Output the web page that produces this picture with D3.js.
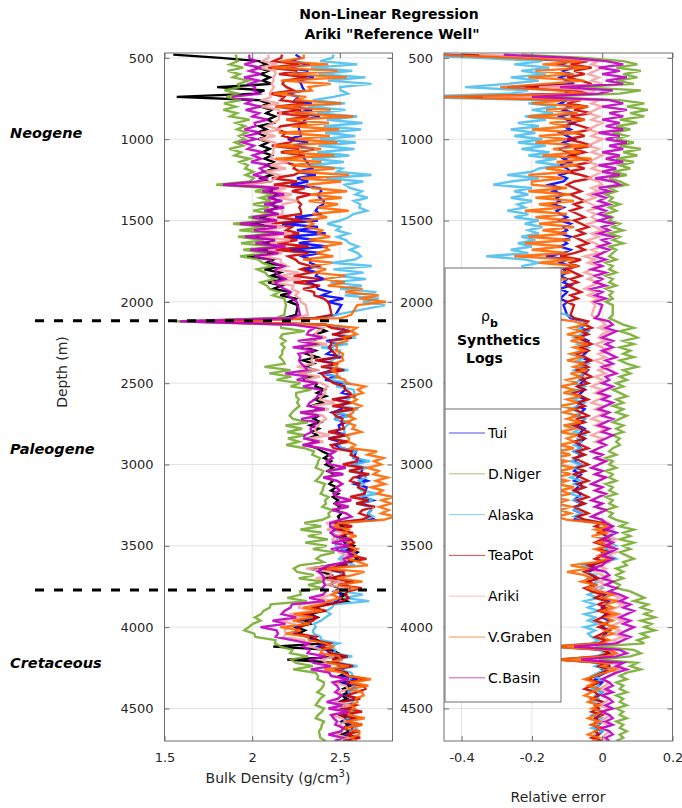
<!DOCTYPE html>
<html>
<head>
<meta charset="utf-8">
<script src="https://cdn.jsdelivr.net/npm/d3@7"></script>
<style>
  body { margin: 0; background: #fff; }
  svg { display: block; }
  text { font-family: "DejaVu Sans", sans-serif; }
</style>
</head>
<body>
<svg id="chart" width="682" height="808"></svg>
<script>
// Sampling depths (m): logged interval above and below the 2020-2080 m gap
const depthUpper = d3.range(480, 2021, 20);   // 78 samples
const depthLower = d3.range(2080, 4701, 20);  // 132 samples

// Measured bulk density, Ariki well (g/cm3); rows start at the depth given
const rhoMeasured = [
  /*  480 */ 1.55, 1.82, 2.04, 2.08, 2.03, 2.09, 2.05, 2.10, 2.06, 2.11,
  /*  680 */ 1.80, 2.07, 2.02, 1.57, 2.04, 2.09, 2.05, 2.11, 2.08, 2.13,
  /*  880 */ 2.09, 2.12, 2.04, 2.08, 2.03, 2.07, 2.04, 2.09, 2.05, 2.10,
  /* 1080 */ 2.06, 2.11, 2.07, 2.12, 2.08, 2.13, 2.07, 2.11, 2.05, 2.09,
  /* 1280 */ 1.93, 2.13, 2.10, 2.14, 2.11, 2.15, 2.11, 2.14, 2.09, 2.13,
  /* 1480 */ 2.04, 2.12, 1.99, 2.14, 2.05, 2.16, 2.02, 2.13, 2.06, 2.17,
  /* 1680 */ 2.03, 2.15, 1.97, 2.12, 2.08, 2.18, 2.07, 2.16, 2.11, 2.19,
  /* 1880 */ 2.09, 2.17, 2.12, 2.22, 2.16, 2.25, 2.21, 2.26,
  /* 2080 */ 2.25, 2.18, 1.62, 2.30, 2.38, 2.42, 2.36, 2.40, 2.33, 2.38,
  /* 2280 */ 2.30, 2.36, 2.31, 2.37, 2.29, 2.35, 2.30, 2.36, 2.28, 2.34,
  /* 2480 */ 2.30, 2.37, 2.36, 2.41, 2.37, 2.42, 2.36, 2.40, 2.34, 2.39,
  /* 2680 */ 2.32, 2.38, 2.35, 2.39, 2.33, 2.38, 2.34, 2.37, 2.32, 2.36,
  /* 2880 */ 2.31, 2.37, 2.40, 2.44, 2.41, 2.45, 2.42, 2.46, 2.43, 2.47,
  /* 3080 */ 2.43, 2.46, 2.44, 2.48, 2.45, 2.49, 2.46, 2.49, 2.47, 2.50,
  /* 3280 */ 2.48, 2.51, 2.49, 2.50, 2.47, 2.52, 2.50, 2.55, 2.52, 2.56,
  /* 3480 */ 2.53, 2.58, 2.55, 2.60, 2.57, 2.60, 2.56, 2.44, 2.33, 2.40,
  /* 3680 */ 2.45, 2.41, 2.48, 2.44, 2.50, 2.47, 2.53, 2.50, 2.54, 2.42,
  /* 3880 */ 2.36, 2.40, 2.33, 2.37, 2.30, 2.33, 2.25, 2.30, 2.26, 2.32,
  /* 4080 */ 2.37, 2.42, 2.12, 2.45, 2.49, 2.52, 2.20, 2.50, 2.55, 2.51,
  /* 4280 */ 2.54, 2.50, 2.55, 2.51, 2.56, 2.52, 2.55, 2.51, 2.54, 2.50,
  /* 4480 */ 2.54, 2.51, 2.55, 2.50, 2.54, 2.51, 2.55, 2.52, 2.56, 2.51,
  /* 4680 */ 2.54, 2.52
];

// Relative error of each synthetic log: (measured - synthetic) / measured
const errTui = [
  /*  480 */ -0.45, -0.25, -0.09, -0.12, -0.08, -0.11, -0.09, -0.12, -0.10, -0.08,
  /*  680 */ -0.27, -0.11, -0.09, -0.44, -0.10, -0.12, -0.09, -0.11, -0.08, -0.12,
  /*  880 */ -0.10, -0.08, -0.11, -0.09, -0.12, -0.10, -0.08, -0.11, -0.09, -0.12,
  /* 1080 */ -0.10, -0.08, -0.11, -0.09, -0.12, -0.10, -0.09, -0.12, -0.10, -0.11,
  /* 1280 */ -0.15, -0.12, -0.14, -0.11, -0.13, -0.12, -0.14, -0.11, -0.13, -0.12,
  /* 1480 */ -0.10, -0.12, -0.09, -0.11, -0.10, -0.12, -0.09, -0.11, -0.10, -0.12,
  /* 1680 */ -0.09, -0.11, -0.16, -0.10, -0.12, -0.09, -0.11, -0.10, -0.12, -0.10,
  /* 1880 */ -0.11, -0.09, -0.12, -0.10, -0.11, -0.12, -0.10, -0.11,
  /* 2080 */ -0.10, -0.09, -0.05, -0.05, -0.06, -0.04, -0.05, -0.06, -0.04, -0.05,
  /* 2280 */ -0.06, -0.04, -0.05, -0.06, -0.04, -0.05, -0.06, -0.04, -0.05, -0.06,
  /* 2480 */ -0.05, -0.06, -0.07, -0.05, -0.06, -0.07, -0.05, -0.06, -0.07, -0.05,
  /* 2680 */ -0.06, -0.07, -0.05, -0.06, -0.07, -0.05, -0.06, -0.07, -0.05, -0.06,
  /* 2880 */ -0.07, -0.06, -0.08, -0.06, -0.07, -0.08, -0.06, -0.07, -0.08, -0.06,
  /* 3080 */ -0.07, -0.08, -0.06, -0.07, -0.08, -0.06, -0.07, -0.08, -0.06, -0.07,
  /* 3280 */ -0.08, -0.06, -0.07, -0.08, 0.00, 0.01, 0.02, 0.00, 0.01, 0.02,
  /* 3480 */ 0.00, 0.01, 0.02, 0.00, 0.01, 0.02, 0.00, -0.03, -0.02, -0.04,
  /* 3680 */ -0.03, -0.02, -0.04, -0.03, -0.02, -0.01, 0.01, 0.00, 0.02, 0.01,
  /* 3880 */ 0.00, 0.02, 0.01, 0.00, 0.02, 0.01, 0.00, 0.02, 0.01, 0.00,
  /* 4080 */ 0.01, 0.00, -0.12, 0.01, 0.02, 0.00, -0.12, 0.01, 0.02, 0.00,
  /* 4280 */ 0.01, -0.01, -0.02, 0.00, -0.01, -0.02, 0.00, -0.01, -0.02, 0.00,
  /* 4480 */ -0.01, -0.02, 0.00, -0.01, -0.02, 0.00, -0.01, -0.02, 0.00, -0.01,
  /* 4680 */ -0.02, -0.01
];

const errDNiger = [
  /*  480 */ -0.23, -0.05, 0.06, 0.10, 0.04, 0.11, 0.06, 0.10, 0.04, 0.09,
  /*  680 */ -0.07, 0.11, 0.05, -0.18, 0.05, 0.12, 0.07, 0.13, 0.08, 0.12,
  /*  880 */ 0.05, 0.10, 0.04, 0.08, 0.03, 0.07, 0.04, 0.09, 0.05, 0.11,
  /* 1080 */ 0.06, 0.10, 0.04, 0.09, 0.05, 0.08, 0.03, 0.07, 0.02, 0.05,
  /* 1280 */ 0.07, 0.02, 0.04, 0.01, 0.03, 0.02, 0.05, 0.02, 0.04, 0.01,
  /* 1480 */ 0.03, 0.02, 0.05, 0.03, 0.06, 0.02, 0.05, 0.03, 0.06, 0.02,
  /* 1680 */ 0.04, 0.03, 0.02, 0.04, 0.01, 0.03, 0.02, 0.04, 0.01, 0.03,
  /* 1880 */ 0.02, 0.04, 0.01, 0.03, 0.02, 0.03, 0.01, 0.03,
  /* 2080 */ 0.03, 0.02, 0.04, 0.06, 0.09, 0.05, 0.08, 0.10, 0.06, 0.09,
  /* 2280 */ 0.05, 0.08, 0.06, 0.09, 0.05, 0.07, 0.10, 0.06, 0.08, 0.05,
  /* 2480 */ 0.07, 0.04, 0.06, 0.03, 0.05, 0.07, 0.04, 0.06, 0.03, 0.06,
  /* 2680 */ 0.04, 0.07, 0.05, 0.03, 0.06, 0.04, 0.06, 0.03, 0.05, 0.04,
  /* 2880 */ 0.05, 0.03, 0.02, 0.04, 0.01, 0.03, 0.02, 0.04, 0.01, 0.03,
  /* 3080 */ 0.02, 0.04, 0.01, 0.03, 0.02, 0.04, 0.01, 0.03, 0.02, 0.04,
  /* 3280 */ 0.01, 0.03, 0.02, 0.04, 0.07, 0.05, 0.09, 0.06, 0.08, 0.05,
  /* 3480 */ 0.09, 0.06, 0.08, 0.05, 0.07, 0.09, 0.06, 0.07, 0.04, 0.06,
  /* 3680 */ 0.04, 0.06, 0.03, 0.05, 0.04, 0.08, 0.10, 0.12, 0.09, 0.13,
  /* 3880 */ 0.11, 0.14, 0.12, 0.15, 0.11, 0.14, 0.12, 0.15, 0.11, 0.13,
  /* 4080 */ 0.10, 0.12, -0.02, 0.09, 0.11, 0.08, -0.01, 0.10, 0.08, 0.11,
  /* 4280 */ 0.07, 0.05, 0.07, 0.04, 0.06, 0.05, 0.07, 0.04, 0.06, 0.05,
  /* 4480 */ 0.07, 0.04, 0.06, 0.05, 0.07, 0.04, 0.06, 0.05, 0.07, 0.05,
  /* 4680 */ 0.06, 0.04
];

const errAlaska = [
  /*  480 */ -0.59, -0.35, -0.17, -0.25, -0.15, -0.23, -0.16, -0.26, -0.18, -0.27,
  /*  680 */ -0.39, -0.21, -0.26, -0.57, -0.15, -0.21, -0.13, -0.20, -0.14, -0.22,
  /*  880 */ -0.16, -0.24, -0.18, -0.26, -0.19, -0.25, -0.17, -0.24, -0.16, -0.23,
  /* 1080 */ -0.15, -0.21, -0.13, -0.19, -0.12, -0.18, -0.20, -0.27, -0.18, -0.26,
  /* 1280 */ -0.31, -0.20, -0.25, -0.21, -0.26, -0.20, -0.24, -0.22, -0.27, -0.21,
  /* 1480 */ -0.25, -0.18, -0.22, -0.17, -0.21, -0.18, -0.23, -0.19, -0.24, -0.20,
  /* 1680 */ -0.26, -0.21, -0.33, -0.22, -0.18, -0.23, -0.19, -0.22, -0.18, -0.21,
  /* 1880 */ -0.17, -0.21, -0.18, -0.22, -0.17, -0.21, -0.19, -0.22,
  /* 2080 */ -0.10, -0.08, -0.05, -0.05, -0.07, -0.04, -0.06, -0.08, -0.05, -0.07,
  /* 2280 */ -0.04, -0.06, -0.08, -0.05, -0.07, -0.04, -0.06, -0.08, -0.05, -0.07,
  /* 2480 */ -0.06, -0.08, -0.05, -0.07, -0.09, -0.06, -0.08, -0.05, -0.07, -0.09,
  /* 2680 */ -0.06, -0.08, -0.05, -0.07, -0.09, -0.06, -0.08, -0.05, -0.07, -0.06,
  /* 2880 */ -0.08, -0.06, -0.08, -0.05, -0.07, -0.09, -0.06, -0.08, -0.05, -0.07,
  /* 3080 */ -0.09, -0.06, -0.08, -0.05, -0.07, -0.09, -0.06, -0.08, -0.05, -0.07,
  /* 3280 */ -0.08, -0.06, -0.08, -0.05, 0.01, 0.03, 0.02, 0.04, 0.01, 0.03,
  /* 3480 */ 0.02, 0.04, 0.01, 0.03, 0.02, 0.04, 0.01, -0.06, -0.03, -0.05,
  /* 3680 */ -0.02, -0.04, -0.01, -0.03, 0.00, -0.02, -0.04, -0.01, -0.05, -0.02,
  /* 3880 */ -0.04, -0.01, -0.05, -0.02, -0.04, -0.01, -0.05, -0.02, -0.04, -0.03,
  /* 4080 */ -0.01, -0.03, -0.15, -0.01, 0.01, -0.02, -0.13, 0.00, -0.02, 0.01,
  /* 4280 */ -0.01, -0.03, 0.00, -0.02, -0.01, -0.03, 0.00, -0.02, -0.01, -0.03,
  /* 4480 */ 0.00, -0.02, -0.01, -0.03, 0.00, -0.02, -0.01, -0.03, 0.00, -0.02,
  /* 4680 */ -0.01, -0.02
];

const errTeaPot = [
  /*  480 */ -0.40, -0.19, -0.04, -0.09, -0.03, -0.08, -0.05, -0.10, -0.06, -0.03,
  /*  680 */ -0.22, -0.08, -0.04, -0.39, -0.06, -0.10, -0.04, -0.08, -0.03, -0.09,
  /*  880 */ -0.05, -0.09, -0.06, -0.03, -0.08, -0.05, -0.10, -0.06, -0.03, -0.08,
  /* 1080 */ -0.05, -0.09, -0.06, -0.03, -0.08, -0.05, -0.10, -0.06, -0.03, -0.08,
  /* 1280 */ -0.10, -0.08, -0.06, -0.09, -0.07, -0.05, -0.08, -0.06, -0.09, -0.07,
  /* 1480 */ -0.05, -0.08, -0.06, -0.04, -0.07, -0.05, -0.08, -0.06, -0.04, -0.07,
  /* 1680 */ -0.05, -0.08, -0.12, -0.06, -0.09, -0.07, -0.10, -0.08, -0.06, -0.09,
  /* 1880 */ -0.07, -0.10, -0.08, -0.06, -0.09, -0.07, -0.10, -0.08,
  /* 2080 */ -0.09, -0.08, -0.04, -0.05, -0.03, -0.06, -0.04, -0.07, -0.05, -0.03,
  /* 2280 */ -0.06, -0.04, -0.07, -0.05, -0.03, -0.06, -0.04, -0.07, -0.05, -0.03,
  /* 2480 */ -0.06, -0.04, -0.07, -0.05, -0.08, -0.06, -0.04, -0.07, -0.05, -0.08,
  /* 2680 */ -0.06, -0.04, -0.07, -0.05, -0.08, -0.06, -0.04, -0.07, -0.05, -0.08,
  /* 2880 */ -0.06, -0.04, -0.07, -0.05, -0.08, -0.06, -0.04, -0.07, -0.05, -0.08,
  /* 3080 */ -0.06, -0.04, -0.07, -0.05, -0.08, -0.06, -0.04, -0.07, -0.05, -0.08,
  /* 3280 */ -0.06, -0.04, -0.07, -0.05, 0.00, -0.02, 0.01, -0.01, 0.02, 0.00,
  /* 3480 */ -0.02, 0.01, -0.01, 0.02, 0.00, -0.02, 0.01, -0.04, -0.02, -0.05,
  /* 3680 */ -0.03, -0.01, -0.04, -0.02, -0.05, -0.03, 0.00, -0.02, 0.01, -0.01,
  /* 3880 */ 0.01, -0.01, 0.02, 0.00, -0.02, 0.01, -0.01, 0.02, 0.00, -0.02,
  /* 4080 */ 0.01, -0.01, -0.13, 0.00, 0.02, -0.01, -0.12, 0.01, -0.01, 0.02,
  /* 4280 */ 0.00, -0.02, -0.04, -0.01, -0.03, -0.05, -0.02, -0.01, -0.03, 0.00,
  /* 4480 */ -0.02, -0.01, -0.03, 0.00, -0.02, -0.01, -0.03, 0.00, -0.02, -0.01,
  /* 4680 */ -0.03, 0.00
];

const errAriki = [
  /*  480 */ -0.35, -0.15, -0.01, -0.03, 0.00, -0.02, -0.04, -0.01, -0.03, 0.00,
  /*  680 */ -0.18, -0.02, -0.04, -0.34, -0.01, -0.03, 0.00, -0.02, -0.04, -0.01,
  /*  880 */ -0.03, 0.00, -0.02, -0.04, -0.01, -0.03, 0.00, -0.02, -0.04, -0.01,
  /* 1080 */ -0.03, 0.00, -0.02, -0.04, -0.01, -0.03, 0.00, -0.02, -0.04, -0.01,
  /* 1280 */ 0.00, -0.03, -0.01, -0.04, -0.02, -0.05, -0.03, -0.01, -0.04, -0.02,
  /* 1480 */ -0.03, -0.01, -0.04, -0.02, 0.00, -0.03, -0.01, -0.04, -0.02, 0.00,
  /* 1680 */ -0.03, -0.01, -0.05, -0.02, -0.04, -0.01, -0.03, -0.05, -0.02, -0.04,
  /* 1880 */ -0.01, -0.03, -0.05, -0.02, -0.04, -0.01, -0.03, -0.02,
  /* 2080 */ -0.03, -0.02, 0.00, 0.01, -0.01, 0.02, 0.00, -0.01, 0.01, -0.02,
  /* 2280 */ 0.00, 0.02, -0.01, 0.01, -0.02, 0.00, 0.02, -0.01, 0.01, -0.02,
  /* 2480 */ 0.00, -0.01, -0.03, 0.00, -0.02, 0.01, -0.01, -0.03, 0.00, -0.02,
  /* 2680 */ 0.01, -0.01, -0.03, 0.00, -0.02, 0.01, -0.01, -0.03, 0.00, -0.02,
  /* 2880 */ 0.01, -0.01, -0.03, 0.00, -0.02, 0.01, -0.01, -0.03, 0.00, -0.02,
  /* 3080 */ 0.01, -0.01, -0.03, 0.00, -0.02, 0.01, -0.01, -0.03, 0.00, -0.02,
  /* 3280 */ 0.01, -0.01, -0.03, 0.00, 0.02, 0.01, 0.03, 0.01, 0.02, 0.04,
  /* 3480 */ 0.01, 0.03, 0.02, 0.04, 0.01, 0.03, 0.02, -0.01, 0.01, -0.02,
  /* 3680 */ 0.00, 0.02, -0.01, 0.01, -0.02, 0.00, 0.03, 0.05, 0.03, 0.06,
  /* 3880 */ 0.04, 0.02, 0.05, 0.03, 0.06, 0.04, 0.02, 0.05, 0.03, 0.06,
  /* 4080 */ 0.03, 0.05, -0.10, 0.02, 0.04, 0.02, -0.09, 0.03, 0.05, 0.02,
  /* 4280 */ 0.04, 0.02, 0.00, 0.02, 0.01, -0.01, 0.02, 0.00, 0.02, 0.01,
  /* 4480 */ -0.01, 0.02, 0.00, 0.02, 0.01, -0.01, 0.02, 0.00, 0.02, 0.01,
  /* 4680 */ 0.00, 0.02
];

const errVGraben = [
  /*  480 */ -0.48, -0.26, -0.06, -0.17, -0.04, -0.19, -0.08, -0.21, -0.05, -0.16,
  /*  680 */ -0.29, -0.13, -0.05, -0.47, -0.10, -0.20, -0.04, -0.16, -0.07, -0.21,
  /*  880 */ -0.05, -0.15, -0.09, -0.20, -0.06, -0.18, -0.10, -0.19, -0.04, -0.14,
  /* 1080 */ -0.06, -0.17, -0.03, -0.13, -0.07, -0.16, -0.09, -0.21, -0.11, -0.20,
  /* 1280 */ -0.20, -0.10, -0.21, -0.09, -0.19, -0.08, -0.18, -0.11, -0.22, -0.10,
  /* 1480 */ -0.19, -0.09, -0.18, -0.08, -0.17, -0.10, -0.21, -0.09, -0.22, -0.11,
  /* 1680 */ -0.20, -0.10, -0.25, -0.08, -0.18, -0.07, -0.17, -0.09, -0.20, -0.10,
  /* 1880 */ -0.21, -0.12, -0.24, -0.14, -0.26, -0.16, -0.25, -0.15,
  /* 2080 */ -0.14, -0.15, -0.08, -0.05, -0.09, -0.06, -0.10, -0.05, -0.09, -0.04,
  /* 2280 */ -0.08, -0.05, -0.09, -0.06, -0.10, -0.05, -0.08, -0.04, -0.09, -0.06,
  /* 2480 */ -0.10, -0.07, -0.12, -0.08, -0.11, -0.06, -0.10, -0.07, -0.12, -0.08,
  /* 2680 */ -0.11, -0.07, -0.10, -0.06, -0.11, -0.08, -0.12, -0.07, -0.10, -0.08,
  /* 2880 */ -0.12, -0.08, -0.13, -0.09, -0.14, -0.10, -0.13, -0.08, -0.12, -0.09,
  /* 3080 */ -0.14, -0.10, -0.13, -0.08, -0.12, -0.09, -0.14, -0.10, -0.13, -0.09,
  /* 3280 */ -0.12, -0.09, -0.13, -0.10, -0.01, 0.02, -0.02, 0.01, -0.03, 0.02,
  /* 3480 */ -0.01, 0.02, -0.02, 0.01, -0.01, 0.02, -0.02, -0.09, -0.04, -0.10,
  /* 3680 */ -0.05, -0.03, -0.06, -0.02, -0.04, -0.01, 0.03, 0.00, 0.04, 0.01,
  /* 3880 */ 0.03, 0.00, 0.04, 0.01, 0.03, 0.00, 0.04, 0.01, 0.03, 0.00,
  /* 4080 */ 0.02, 0.00, -0.16, 0.02, 0.04, 0.01, -0.14, 0.03, 0.00, 0.04,
  /* 4280 */ 0.01, -0.02, -0.05, -0.02, -0.04, -0.01, -0.03, -0.05, -0.02, -0.04,
  /* 4480 */ -0.01, -0.03, 0.00, -0.02, -0.04, -0.01, -0.03, 0.00, -0.02, -0.04,
  /* 4680 */ -0.01, -0.03
];

const errCBasin = [
  /*  480 */ -0.28, -0.09, 0.01, 0.06, -0.01, 0.05, 0.00, 0.07, 0.01, 0.06,
  /*  680 */ -0.12, 0.03, -0.01, -0.20, 0.02, 0.06, 0.00, 0.07, 0.02, 0.06,
  /*  880 */ 0.00, 0.05, 0.01, 0.06, -0.01, 0.05, 0.01, 0.07, 0.02, 0.06,
  /* 1080 */ 0.00, 0.05, 0.01, 0.06, -0.01, 0.04, 0.00, 0.05, -0.02, 0.03,
  /* 1280 */ 0.05, -0.01, 0.02, -0.02, 0.01, -0.01, 0.02, -0.02, 0.01, -0.01,
  /* 1480 */ 0.02, -0.01, 0.03, 0.00, 0.02, -0.01, 0.03, 0.00, 0.02, -0.01,
  /* 1680 */ 0.02, 0.00, -0.02, 0.01, -0.02, 0.00, -0.03, 0.01, -0.02, 0.00,
  /* 1880 */ -0.02, 0.01, -0.03, 0.00, -0.02, 0.01, -0.02, 0.00,
  /* 2080 */ -0.01, -0.02, 0.02, 0.03, 0.01, 0.04, 0.02, 0.00, 0.03, 0.01,
  /* 2280 */ 0.03, 0.00, 0.02, 0.04, 0.01, 0.03, 0.00, 0.02, 0.04, 0.01,
  /* 2480 */ 0.02, 0.00, 0.03, 0.01, -0.01, 0.02, 0.00, 0.03, 0.01, -0.01,
  /* 2680 */ 0.02, 0.00, 0.03, 0.01, -0.01, 0.02, 0.00, 0.03, 0.01, -0.01,
  /* 2880 */ 0.01, -0.01, -0.03, 0.00, -0.02, 0.01, -0.01, -0.03, 0.00, -0.02,
  /* 3080 */ 0.01, -0.01, -0.03, 0.00, -0.02, 0.01, -0.01, -0.03, 0.00, -0.02,
  /* 3280 */ 0.01, -0.01, -0.03, 0.00, 0.01, 0.03, 0.01, 0.04, 0.02, 0.00,
  /* 3480 */ 0.03, 0.01, 0.04, 0.02, 0.00, 0.03, 0.01, 0.00, -0.03, 0.01,
  /* 3680 */ 0.02, 0.00, 0.03, 0.01, 0.04, 0.02, 0.05, 0.07, 0.05, 0.08,
  /* 3880 */ 0.06, 0.09, 0.07, 0.05, 0.08, 0.06, 0.09, 0.07, 0.05, 0.08,
  /* 4080 */ 0.06, 0.04, -0.08, 0.05, 0.07, 0.04, -0.06, 0.06, 0.04, 0.07,
  /* 4280 */ 0.04, 0.02, 0.00, 0.02, 0.03, 0.01, 0.03, 0.00, 0.02, 0.03,
  /* 4480 */ 0.01, 0.03, 0.00, 0.02, 0.03, 0.01, 0.03, 0.00, 0.02, 0.03,
  /* 4680 */ 0.01, 0.02
];

const logNames  = ["Tui", "D.Niger", "Alaska", "TeaPot", "Ariki", "V.Graben", "C.Basin"];
const logColors = ["#0000ff", "#77ac30", "#4dbeee", "#cc0000", "#f7a1a1", "#ff6600", "#c000c0"];
const logErrors = [errTui, errDNiger, errAlaska, errTeaPot, errAriki, errVGraben, errCBasin];

const depthTicks = [500, 1000, 1500, 2000, 2500, 3000, 3500, 4000, 4500];
const rhoTicks = [1.5, 2, 2.5];
const errTicks = [-0.4, -0.2, 0, 0.2];

// Formation boundaries (m) and era labels
const boundaries = [2116, 3772];
const eras = [
  { name: "Neogene",    depth: 962 },
  { name: "Paleogene",  depth: 2905 },
  { name: "Cretaceous", depth: 4222 }
];

// ---------------------------------------------------------------------------
const depth = depthUpper.concat(depthLower);
const svg = d3.select("#chart");
svg.append("rect").attr("width", 682).attr("height", 808).attr("fill", "#fff");

const plotTop = 53, plotBottom = 741;
const y = d3.scaleLinear().domain([470, 4700]).range([plotTop, plotBottom]);
const xRho = d3.scaleLinear().domain([1.5, 2.8]).range([164.5, 392.5]);
const xErr = d3.scaleLinear().domain([-0.45, 0.2]).range([444, 672.5]);

const frameColor = "#6e6e6e";
const tickText = "#262626";
const logWidth = 2.4;

function panel(id, x, xTicks, xFmt) {
  const [x0, x1] = x.range();
  const g = svg.append("g");
  // grid
  g.append("g").selectAll("line").data(depthTicks).join("line")
    .attr("x1", x0).attr("x2", x1).attr("y1", d => y(d)).attr("y2", d => y(d))
    .attr("stroke", "#e3e3e3").attr("stroke-width", 1);
  g.append("g").selectAll("line").data(xTicks).join("line")
    .attr("x1", d => x(d)).attr("x2", d => x(d)).attr("y1", plotTop).attr("y2", plotBottom)
    .attr("stroke", "#e3e3e3").attr("stroke-width", 1);
  // clip for data
  svg.append("clipPath").attr("id", id).append("rect")
    .attr("x", x0).attr("y", plotTop).attr("width", x1 - x0).attr("height", plotBottom - plotTop);
  const data = g.append("g").attr("clip-path", `url(#${id})`);
  // axes
  const axL = g.append("g").attr("transform", `translate(${x0},0)`)
    .call(d3.axisLeft(y).tickValues(depthTicks).tickSize(-5).tickSizeOuter(0).tickPadding(11).tickFormat(d3.format("d")));
  const axR = g.append("g").attr("transform", `translate(${x1},0)`)
    .call(d3.axisRight(y).tickValues(depthTicks).tickSize(-5).tickSizeOuter(0).tickFormat(""));
  const axB = g.append("g").attr("transform", `translate(0,${plotBottom})`)
    .call(d3.axisBottom(x).tickValues(xTicks).tickSize(-5).tickSizeOuter(0).tickPadding(12).tickFormat(xFmt));
  const axT = g.append("g").attr("transform", `translate(0,${plotTop})`)
    .call(d3.axisTop(x).tickValues(xTicks).tickSize(-5).tickSizeOuter(0).tickFormat(""));
  [axL, axR, axB, axT].forEach(a => {
    a.select(".domain").remove();
    a.selectAll("line").attr("stroke", frameColor);
    a.selectAll("text").attr("fill", tickText).style("font-size", "13px")
      .style("font-family", '"DejaVu Sans", sans-serif');
  });
  g.append("rect").attr("x", x0).attr("y", plotTop).attr("width", x1 - x0).attr("height", plotBottom - plotTop)
    .attr("fill", "none").attr("stroke", frameColor).attr("stroke-width", 1);
  return data;
}

const leftData = panel("clipRho", xRho, rhoTicks, d3.format(""));
const rightData = panel("clipErr", xErr, errTicks, d => String(d));

// Left: measured log, then each synthetic rebuilt from its relative error
const lineRho = d3.line().x(d => xRho(d.v)).y(d => y(d.z));
leftData.append("path")
  .datum(depth.map((z, i) => ({ z, v: rhoMeasured[i] })))
  .attr("d", lineRho).attr("fill", "none").attr("stroke", "#000").attr("stroke-width", logWidth);
logErrors.forEach((err, k) => {
  leftData.append("path")
    .datum(depth.map((z, i) => ({ z, v: rhoMeasured[i] * (1 - err[i]) })))
    .attr("d", lineRho).attr("fill", "none").attr("stroke", logColors[k])
    .attr("stroke-width", logWidth).attr("stroke-opacity", 0.9);
});

// Right: relative error of each synthetic
const lineErr = d3.line().x(d => xErr(d.v)).y(d => y(d.z));
logErrors.forEach((err, k) => {
  rightData.append("path")
    .datum(depth.map((z, i) => ({ z, v: err[i] })))
    .attr("d", lineErr).attr("fill", "none").attr("stroke", logColors[k])
    .attr("stroke-width", logWidth).attr("stroke-opacity", 0.9);
});

// Formation boundaries
svg.append("g").selectAll("line").data(boundaries).join("line")
  .attr("x1", 35).attr("x2", 386).attr("y1", d => y(d)).attr("y2", d => y(d))
  .attr("stroke", "#000").attr("stroke-width", 3).attr("stroke-dasharray", "9,10");

// Era labels
svg.append("g").selectAll("text").data(eras).join("text")
  .attr("x", 10).attr("y", d => y(d.depth)).attr("dy", "0.35em")
  .style("font-size", "14.5px").style("font-weight", "bold").style("font-style", "italic")
  .attr("fill", "#000").text(d => d.name);

// Titles and axis labels
const title = svg.append("g").style("font-weight", "bold").style("font-size", "14px").attr("fill", "#000");
title.append("text").attr("x", 389).attr("y", 19).attr("text-anchor", "middle").text("Non-Linear Regression");
title.append("text").attr("x", 392).attr("y", 39).attr("text-anchor", "middle").text('Ariki "Reference Well"');

const xl = svg.append("text").attr("x", 278).attr("y", 783).attr("text-anchor", "middle")
  .style("font-size", "14px").attr("fill", tickText);
xl.append("tspan").text("Bulk Density (g/cm");
xl.append("tspan").attr("dy", -6).style("font-size", "10px").text("3");
xl.append("tspan").attr("dy", 6).text(")");

svg.append("text").attr("x", 558).attr("y", 802).attr("text-anchor", "middle")
  .style("font-size", "14px").attr("fill", tickText).text("Relative error");

svg.append("text").attr("transform", "translate(67,372) rotate(-90)").attr("text-anchor", "middle")
  .style("font-size", "14px").attr("fill", tickText).text("Depth (m)");

// Legend
const lg = svg.append("g");
lg.append("rect").attr("x", 445).attr("y", 268).attr("width", 116).attr("height", 434)
  .attr("fill", "#fff").attr("stroke", frameColor).attr("stroke-width", 1);
lg.append("line").attr("x1", 445).attr("x2", 561).attr("y1", 409).attr("y2", 409)
  .attr("stroke", frameColor).attr("stroke-width", 1);
const rho = lg.append("text").attr("x", 481).attr("y", 321).style("font-size", "14px").attr("fill", "#000");
rho.append("tspan").text("ρ");
rho.append("tspan").attr("dy", 6).style("font-size", "11px").style("font-weight", "bold").text("b");
lg.append("text").attr("x", 457).attr("y", 345).style("font-size", "14px").style("font-weight", "bold").text("Synthetics");
lg.append("text").attr("x", 466).attr("y", 363).style("font-size", "14px").style("font-weight", "bold").text("Logs");
const items = lg.selectAll("g.item").data(logNames).join("g").attr("class", "item")
  .attr("transform", (d, i) => `translate(0,${433 + i * 40.8})`);
items.append("line").attr("x1", 449).attr("x2", 485)
  .attr("stroke", (d, i) => logColors[i]).attr("stroke-width", 1).attr("stroke-opacity", 0.7);
items.append("text").attr("x", 488).attr("dy", "0.35em").style("font-size", "14px")
  .attr("fill", "#000").text(d => d);
</script>
</body>
</html>
